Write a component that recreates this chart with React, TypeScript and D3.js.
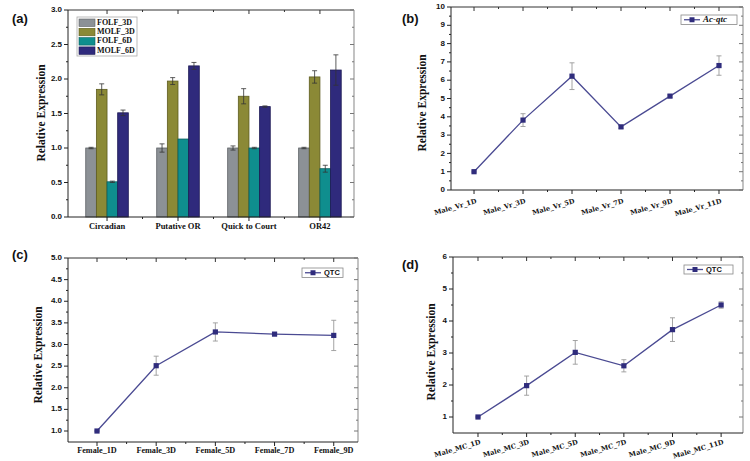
import React from "react";
import * as d3 from "d3";

// ---------- Data ----------
const groupsA = ["Circadian", "Putative OR", "Quick to Court", "OR42"];
const seriesA = ["FOLF_3D", "MOLF_3D", "FOLF_6D", "MOLF_6D"];
const folf3d = [1.0, 1.0, 1.0, 1.0];
const folf3dErr = [0.01, 0.06, 0.03, 0.01];
const molf3d = [1.85, 1.97, 1.75, 2.03];
const molf3dErr = [0.08, 0.05, 0.11, 0.09];
const folf6d = [0.51, 1.13, 1.0, 0.7];
const folf6dErr = [0.01, 0.0, 0.01, 0.05];
const molf6d = [1.51, 2.19, 1.6, 2.13];
const molf6dErr = [0.04, 0.05, 0.01, 0.22];
const yTicksA = [0, 0.5, 1, 1.5, 2, 2.5, 3];

const catsB = ["Male_Vr_1D", "Male_Vr_3D", "Male_Vr_5D", "Male_Vr_7D", "Male_Vr_9D", "Male_Vr_11D"];
const valsB = [1.0, 3.82, 6.22, 3.45, 5.13, 6.8];
const errB = [0.03, 0.35, 0.73, 0.08, 0.07, 0.53];
const yTicksB = [0, 1, 2, 3, 4, 5, 6, 7, 8, 9, 10];

const catsC = ["Female_1D", "Female_3D", "Female_5D", "Female_7D", "Female_9D"];
const valsC = [1.0, 2.51, 3.29, 3.24, 3.21];
const errC = [0.01, 0.22, 0.21, 0.02, 0.35];
const yTicksC = [1.0, 1.5, 2.0, 2.5, 3.0, 3.5, 4.0, 4.5, 5.0];

const catsD = ["Male_MC_1D", "Male_MC_3D", "Male_MC_5D", "Male_MC_7D", "Male_MC_9D", "Male_MC_11D"];
const valsD = [1.0, 1.98, 3.02, 2.6, 3.73, 4.5];
const errD = [0.02, 0.3, 0.37, 0.19, 0.37, 0.1];
const yTicksD = [1, 2, 3, 4, 5, 6];

// ---------- Styles ----------
const BAR_COLORS = ["#8c9196", "#8b8936", "#0f8e8e", "#2f2a7c"];
const BAR_STROKE = ["#5d6165", "#5e5c1f", "#0a5f5f", "#1d1a55"];
const NAVY = "#2f2c7c";
const LINE = "#4a4a92";
const ERR = "#9a9a9a";
const SANS = "'Liberation Sans', Arial, sans-serif";
const SERIF = "'Liberation Serif', 'Times New Roman', serif";
const SLAB = "'DejaVu Serif', serif";

type Frame = { left: number; right: number; top: number; bottom: number };

function frameAxes(
  f: Frame,
  y: d3.ScaleLinear<number, number>,
  yMajor: number[],
  yMinor: number[],
  xMajorPx: number[],
  xMinorPx: number[],
  fmt: (v: number) => string
) {
  const els: React.ReactNode[] = [];
  els.push(<line key="top" x1={f.left} x2={f.right} y1={f.top} y2={f.top} stroke="#333" strokeWidth={1} />);
  els.push(<line key="right" x1={f.right} x2={f.right} y1={f.top} y2={f.bottom} stroke="#9a9a9a" strokeWidth={1.2} />);
  els.push(<line key="left" x1={f.left} x2={f.left} y1={f.top} y2={f.bottom} stroke="#222" strokeWidth={1} />);
  els.push(<line key="bottom" x1={f.left} x2={f.right} y1={f.bottom} y2={f.bottom} stroke="#222" strokeWidth={1} />);
  yMajor.forEach((v, i) => {
    const yy = y(v);
    els.push(<line key={"ym" + i} x1={f.left - 4} x2={f.left} y1={yy} y2={yy} stroke="#222" />);
    els.push(<line key={"yr" + i} x1={f.right - 4} x2={f.right} y1={yy} y2={yy} stroke="#777" />);
    els.push(
      <text key={"yl" + i} x={f.left - 6} y={yy} textAnchor="end" dominantBaseline="middle"
        fontFamily={SANS} fontWeight="bold" fontSize={8} fill="#111">{fmt(v)}</text>
    );
  });
  yMinor.forEach((v, i) => {
    const yy = y(v);
    els.push(<line key={"yn" + i} x1={f.left - 2} x2={f.left} y1={yy} y2={yy} stroke="#222" />);
    els.push(<line key={"yrn" + i} x1={f.right - 2} x2={f.right} y1={yy} y2={yy} stroke="#777" />);
  });
  xMajorPx.forEach((xx, i) => {
    els.push(<line key={"xm" + i} x1={xx} x2={xx} y1={f.bottom} y2={f.bottom + 4} stroke="#222" />);
    els.push(<line key={"xt" + i} x1={xx} x2={xx} y1={f.top} y2={f.top + 4} stroke="#333" />);
  });
  xMinorPx.forEach((xx, i) => {
    els.push(<line key={"xn" + i} x1={xx} x2={xx} y1={f.bottom} y2={f.bottom + 2} stroke="#222" />);
    els.push(<line key={"xtn" + i} x1={xx} x2={xx} y1={f.top} y2={f.top + 2} stroke="#333" />);
  });
  return els;
}

function minorsBetween(ticks: number[]) {
  const out: number[] = [];
  for (let i = 0; i < ticks.length - 1; i++) out.push((ticks[i] + ticks[i + 1]) / 2);
  return out;
}

function PanelA() {
  const f: Frame = { left: 68, right: 354, top: 10, bottom: 217 };
  const x = d3.scaleLinear().domain([0.45, 4.48]).range([f.left, f.right]);
  const y = d3.scaleLinear().domain([0, 3]).range([f.bottom, f.top]);
  const series = [
    { name: seriesA[0], vals: folf3d, err: folf3dErr },
    { name: seriesA[1], vals: molf3d, err: molf3dErr },
    { name: seriesA[2], vals: folf6d, err: folf6dErr },
    { name: seriesA[3], vals: molf6d, err: molf6dErr },
  ];
  const bw = 0.15;
  const unit = x(1) - x(0);
  const barW = bw * unit;
  const centers = groupsA.map((_, i) => x(i + 1));
  const minorX = groupsA.slice(0, -1).map((_, i) => x(i + 1.5));
  return (
    <g>
      {series.map((s, si) =>
        s.vals.map((v, gi) => {
          const x0 = x(gi + 1 + (si - 2) * bw);
          return (
            <rect key={si + "-" + gi} x={x0} y={y(v)} width={barW} height={y(0) - y(v)}
              fill={BAR_COLORS[si]} stroke={BAR_STROKE[si]} strokeWidth={0.8} />
          );
        })
      )}
      {series.map((s, si) =>
        s.vals.map((v, gi) => {
          const cx = x(gi + 1 + (si - 1.5) * bw);
          const e = s.err[gi];
          if (e <= 0) return null;
          return (
            <g key={"e" + si + "-" + gi} stroke="#333" strokeWidth={0.8}>
              <line x1={cx} x2={cx} y1={y(v + e)} y2={y(v - e)} />
              <line x1={cx - 2.5} x2={cx + 2.5} y1={y(v + e)} y2={y(v + e)} />
              <line x1={cx - 2.5} x2={cx + 2.5} y1={y(v - e)} y2={y(v - e)} />
            </g>
          );
        })
      )}
      {frameAxes(f, y, yTicksA, minorsBetween(yTicksA), centers, minorX, (v) => v.toFixed(1))}
      {groupsA.map((g, i) => (
        <text key={g} x={centers[i]} y={f.bottom + 12} textAnchor="middle"
          fontFamily={SERIF} fontWeight="bold" fontSize={8.5} fill="#111">{g}</text>
      ))}
      <rect x={77} y={17} width={60} height={39} fill="#fff" stroke="#aaa" strokeWidth={0.8} />
      {seriesA.map((s, i) => (
        <g key={s}>
          <rect x={79} y={19 + i * 9.3} width={16} height={7.5} fill={BAR_COLORS[i]} stroke={BAR_STROKE[i]} strokeWidth={0.6} />
          <text x={97} y={23 + i * 9.3} dominantBaseline="middle" fontFamily={SERIF} fontWeight="bold"
            fontSize={8} fill="#111">{s}</text>
        </g>
      ))}
      <text x={42} y={113} transform="rotate(-90 42 113)" textAnchor="middle" dominantBaseline="middle"
        fontFamily={SERIF} fontWeight="bold" fontSize={11.5} fill="#111">Relative Expression</text>
      <text x={12} y={23} fontFamily={SANS} fontWeight="bold" fontSize={13} fill="#111">(a)</text>
    </g>
  );
}

type LineCfg = {
  f: Frame;
  xDom: [number, number];
  yDom: [number, number];
  cats: string[];
  vals: number[];
  err: number[];
  yTicks: number[];
  fmt: (v: number) => string;
  rotate: boolean;
  labOff: number;
  legend: { x: number; y: number; w: number; h: number; label: string; italic: boolean };
  ylab: { x: number; y: number };
  tag: { x: number; y: number; text: string };
};

function LinePanel({ c }: { c: LineCfg }) {
  const { f } = c;
  const x = d3.scaleLinear().domain(c.xDom).range([f.left, f.right]);
  const y = d3.scaleLinear().domain(c.yDom).range([f.bottom, f.top]);
  const idx = c.vals.map((_, i) => i + 1);
  const line = d3.line<number>().x((i) => x(i)).y((i) => y(c.vals[i - 1]));
  const majorX = idx.map((i) => x(i));
  const minorX = idx.slice(0, -1).map((i) => x(i + 0.5));
  const lg = c.legend;
  return (
    <g>
      {frameAxes(f, y, c.yTicks, minorsBetween(c.yTicks), majorX, minorX, c.fmt)}
      <path d={line(idx) || ""} fill="none" stroke={LINE} strokeWidth={1.3} />
      {idx.map((i) => {
        const v = c.vals[i - 1];
        const e = c.err[i - 1];
        const cx = x(i);
        return (
          <g key={"e" + i} stroke={ERR} strokeWidth={0.9}>
            <line x1={cx} x2={cx} y1={y(v + e)} y2={y(v - e)} />
            <line x1={cx - 2.5} x2={cx + 2.5} y1={y(v + e)} y2={y(v + e)} />
            <line x1={cx - 2.5} x2={cx + 2.5} y1={y(v - e)} y2={y(v - e)} />
          </g>
        );
      })}
      {idx.map((i) => (
        <rect key={"m" + i} x={x(i) - 2.6} y={y(c.vals[i - 1]) - 2.6} width={5.2} height={5.2} fill={NAVY} />
      ))}
      {c.cats.map((t, i) =>
        c.rotate ? (
          <text key={t} transform={`translate(${x(i + 1) + 3},${f.bottom + c.labOff}) rotate(-16)`} textAnchor="end"
            fontFamily={SLAB} fontWeight="bold" fontSize={6.6} fill="#111">{t}</text>
        ) : (
          <text key={t} x={x(i + 1)} y={f.bottom + 11} textAnchor="middle"
            fontFamily={SERIF} fontWeight="bold" fontSize={8.2} fill="#111">{t}</text>
        )
      )}
      <rect x={lg.x} y={lg.y} width={lg.w} height={lg.h} fill="#fff" stroke="#888" strokeWidth={0.8} />
      <line x1={lg.x + 3} x2={lg.x + 19} y1={lg.y + lg.h / 2} y2={lg.y + lg.h / 2} stroke={LINE} strokeWidth={1.3} />
      <rect x={lg.x + 8.5} y={lg.y + lg.h / 2 - 2.5} width={5} height={5} fill={NAVY} />
      <text x={lg.x + 22} y={lg.y + lg.h / 2 + 0.5} dominantBaseline="middle" fontFamily={lg.italic ? SERIF : SANS}
        fontStyle={lg.italic ? "italic" : "normal"} fontWeight="bold" fontSize={lg.italic ? 9 : 7.5} fill="#111">{lg.label}</text>
      <text x={c.ylab.x} y={c.ylab.y} transform={`rotate(-90 ${c.ylab.x} ${c.ylab.y})`} textAnchor="middle"
        dominantBaseline="middle" fontFamily={SERIF} fontWeight="bold" fontSize={11.5} fill="#111">Relative Expression</text>
      <text x={c.tag.x} y={c.tag.y} fontFamily={SANS} fontWeight="bold" fontSize={13} fill="#111">{c.tag.text}</text>
    </g>
  );
}

const cfgB: LineCfg = {
  f: { left: 451, right: 743, top: 7, bottom: 190 },
  xDom: [0.53, 6.49],
  yDom: [0, 10],
  cats: catsB,
  vals: valsB,
  err: errB,
  yTicks: yTicksB,
  fmt: (v) => String(v),
  rotate: true,
  labOff: 13,
  legend: { x: 681, y: 15, w: 56, h: 9.5, label: "Ac-qtc", italic: true },
  ylab: { x: 423, y: 103 },
  tag: { x: 402, y: 23, text: "(b)" },
};

const cfgC: LineCfg = {
  f: { left: 68, right: 358, top: 258, bottom: 442 },
  xDom: [0.51, 5.41],
  yDom: [0.746, 5],
  cats: catsC,
  vals: valsC,
  err: errC,
  yTicks: yTicksC,
  fmt: (v) => v.toFixed(1),
  rotate: false,
  labOff: 11,
  legend: { x: 302, y: 268, w: 41, h: 9.5, label: "QTC", italic: false },
  ylab: { x: 39, y: 355 },
  tag: { x: 12, y: 259, text: "(c)" },
};

const cfgD: LineCfg = {
  f: { left: 453, right: 743, top: 257, bottom: 433 },
  xDom: [0.486, 6.45],
  yDom: [0.5, 6],
  cats: catsD,
  vals: valsD,
  err: errD,
  yTicks: yTicksD,
  fmt: (v) => String(v),
  rotate: true,
  labOff: 11,
  legend: { x: 684, y: 265, w: 49, h: 9, label: "QTC", italic: false },
  ylab: { x: 432, y: 352 },
  tag: { x: 402, y: 269, text: "(d)" },
};

export default function App() {
  return (
    <svg width={750} height={461} viewBox="0 0 750 461"
      style={{ position: "absolute", left: 0, top: 0, background: "#fff" }}>
      <rect x={0} y={0} width={750} height={461} fill="#fff" />
      <PanelA />
      <LinePanel c={cfgB} />
      <LinePanel c={cfgC} />
      <LinePanel c={cfgD} />
    </svg>
  );
}
